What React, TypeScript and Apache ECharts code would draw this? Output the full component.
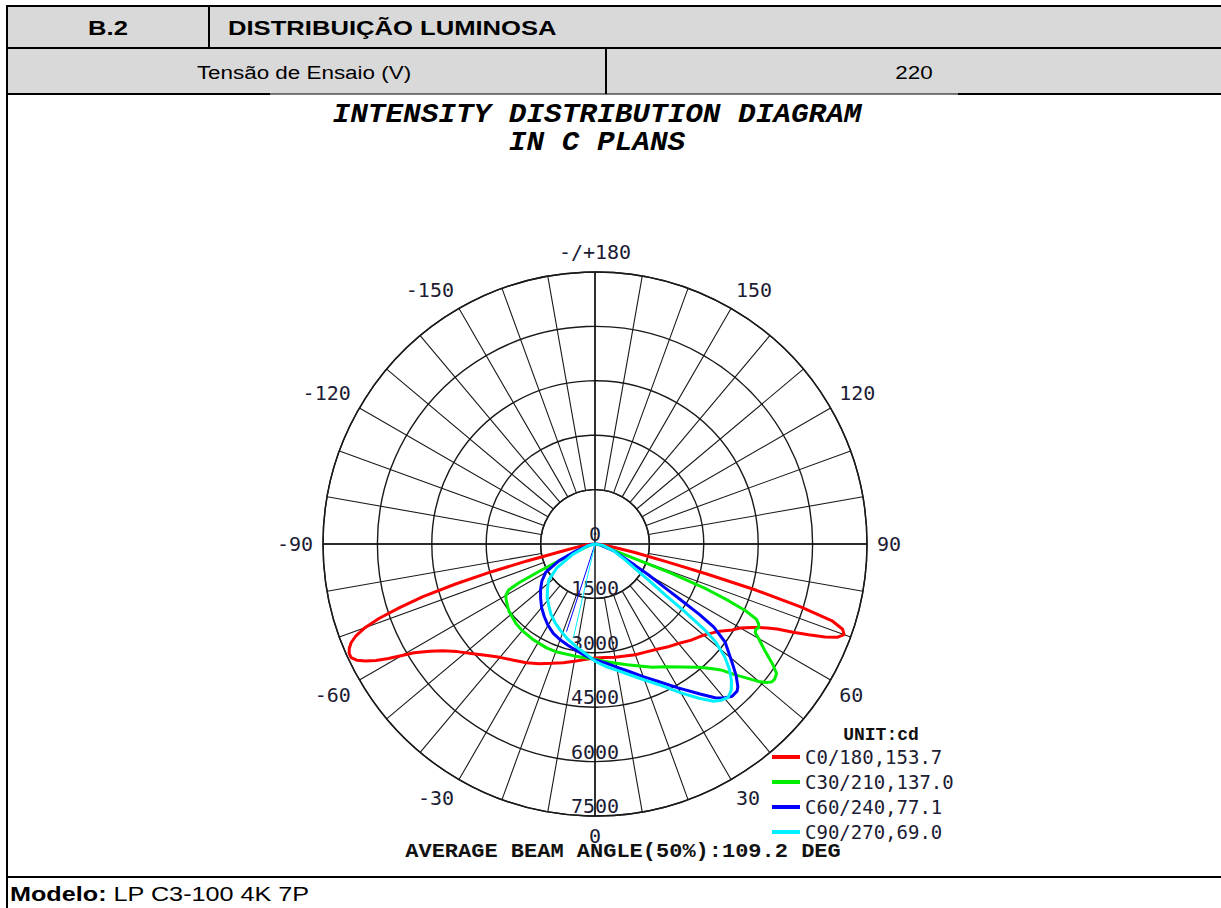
import React, { useEffect, useRef } from 'react';
import * as echarts from 'echarts';

// ---- data (gamma angle in degrees, intensity in cd) ----
const redGamma = [-90, -85, -80, -78, -76, -75, -74, -73, -72, -71, -70, -69, -68, -67, -66, -65, -64, -63, -62, -61, -60, -59, -57, -55, -52, -48, -44, -40, -35, -30, -25, -20, -15, -10, -5, 0, 5, 10, 15, 20, 25, 30, 35, 40, 45, 50, 55, 58, 60, 62, 63, 64, 65, 66, 67, 68, 69, 70, 71, 72, 73, 74, 75, 76, 78, 80, 85, 90];
const redCd = [55, 220, 500, 830, 1930, 2950, 4000, 4960, 5650, 6290, 6750, 7060, 7250, 7360, 7420, 7420, 7310, 7110, 6840, 6510, 6150, 5820, 5430, 5130, 4820, 4520, 4270, 4080, 3910, 3780, 3640, 3500, 3390, 3280, 3200, 3140, 3140, 3170, 3200, 3250, 3290, 3360, 3470, 3580, 3750, 3910, 4190, 4470, 4630, 4910, 5070, 5290, 5540, 5980, 6400, 6840, 7170, 7310, 7220, 6890, 5930, 4630, 3170, 2070, 1100, 550, 170, 55];

const greenGamma = [-90, -80, -70, -66, -64, -63, -62, -60, -58, -55, -52, -45, -40, -33, -25, -20, -10, 0, 5, 10, 15, 20, 25, 30, 35, 40, 43, 45, 47, 49, 50, 51, 52, 53, 54.5, 56, 58, 60, 61, 62, 63, 64, 65, 66, 67, 68, 69, 70, 72, 80, 90];
const greenCd = [0, 80, 280, 830, 1650, 2340, 2700, 2840, 2890, 2950, 3010, 3090, 3120, 3140, 3160, 3160, 3140, 3180, 3250, 3340, 3450, 3580, 3750, 3910, 4140, 4440, 4690, 4910, 5290, 5680, 5900, 6070, 6180, 6200, 6150, 5900, 5510, 5210, 5050, 5020, 5070, 5020, 4910, 4580, 4000, 3310, 2210, 960, 410, 140, 0];

const blueGamma = [-90, -80, -70, -65, -60, -55, -50, -45, -40, -35, -30, -25, -20, -15, -10, -5, 0, 5, 10, 15, 20, 25, 30, 35, 38, 40, 42, 44, 45, 47, 49, 51, 53, 55, 56, 57, 58, 60, 62, 65, 70, 80, 90];
const blueCd = [0, 140, 550, 1100, 1570, 1790, 1960, 2120, 2290, 2440, 2590, 2720, 2810, 2890, 2980, 3090, 3200, 3290, 3450, 3640, 3890, 4190, 4580, 5050, 5380, 5540, 5650, 5640, 5570, 5320, 5020, 4740, 4490, 4000, 3470, 2760, 2260, 1710, 1240, 830, 550, 170, 0];

const cyanGamma = [-90, -75, -65, -58, -52, -47, -42, -37, -32, -27, -22, -16, -10, -5, 0, 5, 10, 15, 20, 25, 30, 34, 37, 39, 41, 43, 45, 47, 49, 51, 52, 53, 54, 56, 58, 62, 70, 80, 90];
const cyanCd = [0, 220, 690, 1240, 1620, 1790, 1970, 2120, 2290, 2430, 2560, 2730, 2890, 3030, 3230, 3390, 3540, 3740, 3990, 4300, 4740, 5130, 5430, 5540, 5600, 5510, 5320, 5070, 4740, 4270, 3800, 3090, 2430, 1790, 1350, 960, 550, 220, 0];

// thin closing strokes drawn from the origin
const blueStubGamma = [0, -18];
const blueStubCd = [0, 2540];
const cyanStubGamma = [0, -13];
const cyanStubCd = [0, 2650];

const seriesNames = ['C0/180,153.7', 'C30/210,137.0', 'C60/240,77.1', 'C90/270,69.0'];
const seriesColors = ['#ff0000', '#00ee00', '#0000ff', '#00f0ff'];

const radiusMax = 7500;
const radiusStep = 1500;
const angleStep = 10;
const angleLabelStep = 30;

const titleLines = ['INTENSITY DISTRIBUTION DIAGRAM', 'IN C PLANS'];
const unitText = 'UNIT:cd';
const beamText = 'AVERAGE BEAM ANGLE(50%):109.2 DEG';

function toPolar(g: number[], v: number[]) {
  return g.map((a, i) => [v[i], a < 0 ? a + 360 : a]);
}

const CX = 595;
const CY = 544;
const R = 272;

export default function App() {
  const ref = useRef<HTMLDivElement>(null);
  useEffect(() => {
    if (!ref.current) return;
    const chart = echarts.init(ref.current, undefined, { renderer: 'svg' });
    const labelFont = 'DejaVu Sans Mono';
    const gridColor = '#1a1a1a';
    const mkSeries = (name: string, color: string, g: number[], v: number[], width: number, z: number) => ({
      name,
      type: 'line',
      coordinateSystem: 'polar',
      polarIndex: 0,
      showSymbol: false,
      symbol: 'none',
      silent: true,
      z,
      lineStyle: { color, width },
      itemStyle: { color },
      data: toPolar(g, v),
    });
    const option: any = {
      animation: false,
      backgroundColor: '#ffffff',
      polar: [
        { center: [CX, CY], radius: [0, R] },
        { center: [CX, CY], radius: [R / 5, R] },
      ],
      angleAxis: [
        {
          polarIndex: 0,
          type: 'value',
          min: 0,
          max: 360,
          interval: 90,
          startAngle: 270,
          clockwise: false,
          axisLine: { show: false },
          axisTick: { show: false },
          axisLabel: { show: false },
          splitLine: { show: true, lineStyle: { color: '#000', width: 1.4 } },
        },
        {
          polarIndex: 1,
          type: 'value',
          min: 0,
          max: 360,
          interval: angleStep,
          startAngle: 270,
          clockwise: false,
          axisLine: { show: true, lineStyle: { color: gridColor, width: 1.4 } },
          axisTick: { show: false },
          axisLabel: {
            show: true,
            margin: 10,
            fontFamily: labelFont,
            fontSize: 20,
            color: '#1c1c34',
            formatter: (v: number) => {
              if (v % angleLabelStep !== 0 || v === 360) return '';
              if (v === 180) return '-/+180';
              if (v > 180) return String(v - 360);
              return String(v);
            },
          },
          splitLine: { show: true, lineStyle: { color: gridColor, width: 1.1 } },
        },
      ],
      radiusAxis: [
        {
          polarIndex: 0,
          type: 'value',
          min: 0,
          max: radiusMax,
          interval: radiusStep,
          axisLine: { show: false },
          axisTick: { show: false },
          axisLabel: {
            show: true,
            margin: 0,
            align: 'center',
            verticalAlign: 'bottom',
            fontFamily: labelFont,
            fontSize: 20,
            color: '#1c1c34',
            formatter: (v: number) => String(v),
          },
          splitLine: { show: true, lineStyle: { color: gridColor, width: 1.4 } },
        },
        { polarIndex: 1, type: 'value', min: 0, max: 1, show: false },
      ],
      legend: {
        data: seriesNames,
        orient: 'vertical',
        left: 772,
        top: 747,
        icon: 'rect',
        itemWidth: 28,
        itemHeight: 4,
        itemGap: 5,
        padding: 0,
        selectedMode: false,
        textStyle: { fontFamily: labelFont, fontSize: 19, lineHeight: 20, color: '#1c1c34', padding: [0, 0, 0, 0] },
      },
      series: [
        mkSeries(seriesNames[0], seriesColors[0], redGamma, redCd, 3, 3),
        mkSeries(seriesNames[1], seriesColors[1], greenGamma, greenCd, 3, 4),
        mkSeries(seriesNames[2], seriesColors[2], blueGamma, blueCd, 3, 5),
        mkSeries(seriesNames[3], seriesColors[3], cyanGamma, cyanCd, 3, 6),
        mkSeries('blue-stub', seriesColors[2], blueStubGamma, blueStubCd, 1, 5),
        mkSeries('cyan-stub', seriesColors[3], cyanStubGamma, cyanStubCd, 1, 6),
      ],
      graphic: [
        // table background
        { type: 'rect', shape: { x: 7, y: 6, width: 1214, height: 88 }, style: { fill: '#d9d9d9' }, z: 0 },
        { type: 'line', shape: { x1: 7, y1: 6, x2: 1221, y2: 6 }, style: { stroke: '#000', lineWidth: 2 } },
        { type: 'line', shape: { x1: 7, y1: 48, x2: 1221, y2: 48 }, style: { stroke: '#000', lineWidth: 2 } },
        { type: 'line', shape: { x1: 7, y1: 94, x2: 270, y2: 94 }, style: { stroke: '#000', lineWidth: 2 } },
        { type: 'line', shape: { x1: 270, y1: 94, x2: 958, y2: 94 }, style: { stroke: '#000', lineWidth: 1 } },
        { type: 'line', shape: { x1: 958, y1: 94, x2: 1221, y2: 94 }, style: { stroke: '#000', lineWidth: 2 } },
        { type: 'line', shape: { x1: 7, y1: 5, x2: 7, y2: 908 }, style: { stroke: '#000', lineWidth: 2 } },
        { type: 'line', shape: { x1: 209, y1: 6, x2: 209, y2: 48 }, style: { stroke: '#000', lineWidth: 2 } },
        { type: 'line', shape: { x1: 606, y1: 48, x2: 606, y2: 94 }, style: { stroke: '#000', lineWidth: 2 } },
        { type: 'line', shape: { x1: 7, y1: 877, x2: 1221, y2: 877 }, style: { stroke: '#000', lineWidth: 2 } },
        {
          type: 'text', x: 108, y: 28, scaleX: 1.22,
          style: { text: 'B.2', font: 'bold 21px "Liberation Sans"', fill: '#000', align: 'center', verticalAlign: 'middle' },
        },
        {
          type: 'text', x: 228, y: 28, scaleX: 1.22,
          style: { text: 'DISTRIBUIÇÃO LUMINOSA', font: 'bold 21px "Liberation Sans"', fill: '#000', align: 'left', verticalAlign: 'middle' },
        },
        {
          type: 'text', x: 304, y: 72, scaleX: 1.18,
          style: { text: 'Tensão de Ensaio (V)', font: '19px "Liberation Sans"', fill: '#000', align: 'center', verticalAlign: 'middle' },
        },
        {
          type: 'text', x: 914, y: 72, scaleX: 1.18,
          style: { text: '220', font: '19px "Liberation Sans"', fill: '#000', align: 'center', verticalAlign: 'middle' },
        },
        {
          type: 'text', x: 10, y: 894, scaleX: 1.2,
          style: {
            text: '{b|Modelo:} LP C3-100 4K 7P',
            font: '21px "Liberation Sans"',
            fill: '#000',
            align: 'left',
            verticalAlign: 'middle',
            rich: { b: { fontFamily: 'Liberation Sans', fontWeight: 'bold', fontSize: 21, fill: '#000' } },
          },
        },
        // chart titles
        {
          type: 'text', x: 597, y: 115, scaleX: 1.05,
          style: { text: titleLines[0], font: 'italic bold 28px "Liberation Mono"', fill: '#000', align: 'center', verticalAlign: 'middle' },
        },
        {
          type: 'text', x: 597, y: 143, scaleX: 1.05,
          style: { text: titleLines[1], font: 'italic bold 28px "Liberation Mono"', fill: '#000', align: 'center', verticalAlign: 'middle' },
        },
        {
          type: 'text', x: 881, y: 735,
          style: { text: unitText, font: 'bold 18px "Liberation Mono"', fill: '#111', align: 'center', verticalAlign: 'middle' },
        },
        {
          type: 'text', x: 623, y: 852, scaleX: 1.1,
          style: { text: beamText, font: 'bold 20px "Liberation Mono"', fill: '#111', align: 'center', verticalAlign: 'middle' },
        },
      ],
    };
    chart.setOption(option);
    return () => chart.dispose();
  }, []);
  return (
    <div
      ref={ref}
      style={{ position: 'absolute', left: 0, top: 0, width: 1221, height: 908, background: '#fff' }}
    />
  );
}
